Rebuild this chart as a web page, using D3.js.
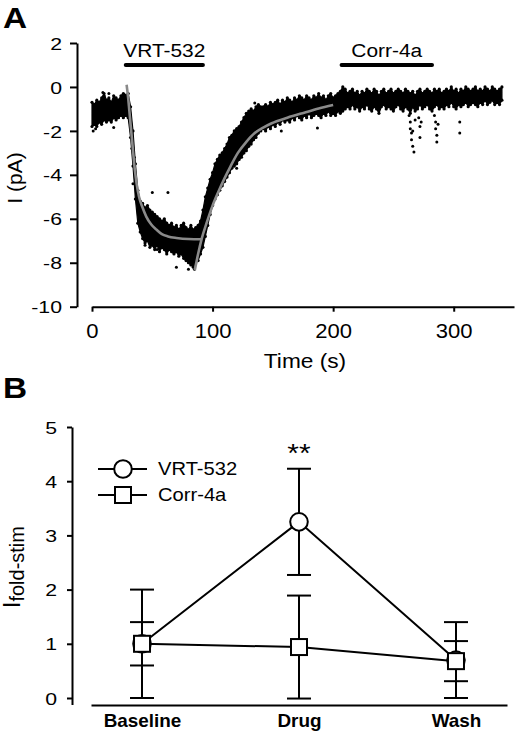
<!DOCTYPE html>
<html><head><meta charset="utf-8">
<script src="https://cdn.jsdelivr.net/npm/d3@7"></script>
<style>
body{margin:0;background:#fff}
svg{display:block}
text{font-family:"Liberation Sans",Arial,Helvetica,sans-serif;fill:#000}
</style>
</head><body>
<svg id="chart" width="516" height="733"></svg>
<script>
// ---------------- Panel A data ----------------
const traceStep = 2; // seconds between trace bins, first bin at t = 0
const traceHi = [
 -0.7,-0.8,-0.6,-0.7,-0.5,-0.3,-0.6,-0.5,-0.7,-0.4,-0.5,-0.6,-0.4,-0.3,-0.4,-0.3,
 -0.9,-2.0,-3.5,-4.7,-5.2,-5.3,-5.5,-5.4,-5.6,-5.7,-5.8,-5.9,-6.0,-6.1,-6.0,-6.2,-6.3,-6.2,-6.4,-6.3,-6.5,-6.3,-6.2,-6.4,-6.5,-6.3,-6.5,-6.4,-6.3,-6.1,
 -5.6,-5.0,-4.6,-4.2,-3.9,-3.5,-3.3,-3.1,-3.0,-2.8,-2.6,-2.3,-2.2,-2.0,-1.9,-1.8,-1.6,-1.4,-1.2,-1.1,-1.0,-1.1,-0.9,-0.8,-0.9,
 -0.9,-0.8,-0.9,-0.7,-0.8,-0.7,-0.6,-0.8,-0.6,-0.7,-0.5,-0.6,-0.7,-0.5,-0.6,-0.4,-0.5,-0.6,-0.4,-0.5,-0.6,-0.4,-0.5,-0.3,-0.5,-0.4,-0.6,-0.4,-0.3,-0.5,-0.4,-0.3,-0.2,
 0.0,-0.1,-0.3,-0.2,-0.1,-0.3,-0.2,-0.4,-0.2,-0.3,
 -0.1,-0.2,-0.3,-0.1,-0.2,-0.4,-0.2,-0.1,-0.3,-0.2,
 -0.1,-0.3,-0.2,-0.1,-0.2,-0.3,-0.1,-0.2,-0.3,-0.2,
 -0.4,-0.2,-0.1,-0.3,-0.2,-0.1,-0.2,-0.3,-0.1,-0.2,
 -0.1,-0.3,-0.2,-0.1,-0.2,0.0,-0.2,-0.1,-0.3,-0.1,
 -0.2,0.0,-0.1,-0.2,-0.1,0.0,-0.2,-0.1,-0.2,0.0,
 -0.1,-0.2,0.0,-0.1,-0.2,-0.1,0.0
];
const traceLo = [
 -1.8,-1.7,-1.8,-1.6,-1.7,-1.5,-1.6,-1.5,-1.6,-1.4,-1.5,-1.4,-1.3,-1.4,-1.3,-1.4,
 -2.3,-3.6,-5.1,-6.2,-6.6,-6.9,-7.1,-7.0,-7.3,-7.2,-7.4,-7.2,-7.5,-7.3,-7.4,-7.6,-7.4,-7.5,-7.6,-7.5,-7.7,-7.6,-7.8,-7.9,-8.0,-8.1,-8.2,-8.0,-7.9,-7.6,
 -7.3,-6.8,-6.3,-5.8,-5.4,-5.1,-4.9,-4.7,-4.5,-4.3,-4.1,-3.9,-3.7,-3.6,-3.5,-3.3,-3.2,-3.0,-2.9,-2.7,-2.6,-2.4,-2.3,-2.1,-2.0,
 -1.9,-2.0,-1.8,-1.9,-1.7,-1.8,-1.6,-1.7,-1.5,-1.6,-1.5,-1.6,-1.4,-1.5,-1.3,-1.4,-1.5,-1.3,-1.4,-1.2,-1.4,-1.3,-1.2,-1.3,-1.4,-1.2,-1.3,-1.1,-1.3,-1.2,-1.3,-1.1,-1.2,
 -1.1,-1.0,-0.9,-1.0,-0.8,-1.0,-0.9,-1.1,-0.9,-1.0,
 -0.8,-1.0,-1.1,-0.9,-1.0,-1.2,-0.9,-0.8,-1.0,-0.9,
 -1.0,-1.1,-0.9,-0.8,-1.0,-1.1,-0.9,-1.0,-1.2,-0.9,
 -1.1,-1.0,-0.8,-1.0,-0.9,-0.8,-1.0,-1.1,-0.9,-0.8,
 -1.0,-0.9,-1.0,-0.8,-0.9,-0.7,-0.9,-1.0,-0.8,-0.9,
 -0.8,-0.7,-0.9,-0.8,-0.7,-0.8,-0.9,-0.7,-0.8,-0.6,
 -0.8,-0.7,-0.6,-0.8,-0.7,-0.8,-0.6
];
// isolated points [time s, current pA]
const traceDots = [
 [1,-2.0],[3,-1.9],[9,-0.25],[10,-0.4],[14,-0.3],[18,-1.85],[27,-0.35],
 [33,-2.8],[34,-4.4],[35,-3.2],[38,-4.9],[44,-7.2],[50,-4.8],[54,-7.4],[63,-4.8],[70,-8.2],[85,-8.3],[80,-8.3],
 [103,-3.55],[120,-3.7],[135,-0.73],[157,-2.0],[187,-1.87],
 [263,-1.3],[264,-1.6],[264,-1.9],[265,-2.1],[265,-2.4],[266,-2.0],[266,-2.7],[267,-2.96],[268,-1.5],
 [271,-1.4],[272,-1.8],[272,-2.3],[273,-1.6],
 [284,-1.3],[285,-1.6],[285,-1.9],[286,-2.2],[286,-2.5],[287,-1.7],
 [305,-1.6],[305,-2.1]
];
// fitted curves [time s, current pA]
const fitOnset = [[28.7,0.1],[30,-0.5],[31,-1.1],[32,-1.7],[33,-2.3],[34,-2.9],[35.6,-3.8],[37,-4.4],[39,-5.0],[42,-5.5],[45,-5.9],[49,-6.25],[53.6,-6.5],[58,-6.7],[63,-6.8],[70,-6.87],[80,-6.92],[91,-6.93]];
const fitWash = [[85.3,-8.33],[88,-7.6],[91,-6.9],[95,-6.2],[100,-5.4],[105,-4.75],[110,-4.15],[115,-3.6],[121,-3.0],[128,-2.5],[135,-2.1],[142,-1.85],[149,-1.65],[162,-1.4],[176,-1.17],[188,-0.98],[200,-0.82]];
const drugNames = ["VRT-532","Corr-4a"];
const drugStart = [28, 207];
const drugEnd = [92, 282];
const drugBarLevel = 1.0;
const timeTicks = [0,100,200,300];
const currentTicks = [2,0,-2,-4,-6,-8,-10];

// ---------------- Panel B data ----------------
const conditions = ["Baseline","Drug","Wash"];
const seriesNames = ["VRT-532","Corr-4a"];
const vrtMean = [1.0, 3.25, 0.70];
const vrtSD   = [1.0, 0.98, 0.70];
const corrMean = [1.0, 0.94, 0.68];
const corrSD   = [0.40, 0.95, 0.37];
const foldTicks = [0,1,2,3,4,5];

// ---------------- drawing ----------------
const svg = d3.select("#chart");
const FONT = '"Liberation Sans",Arial,Helvetica,sans-serif';

function stretch(sel, k){
  sel.each(function(){
    const t = d3.select(this);
    const x = +(t.attr("x")||0);
    t.attr("x", x/k).attr("transform", `scale(${k},1)`);
  });
}
function label(g, x, y, txt, size, k, opts={}){
  return g.append("text").attr("x", x/k).attr("y", y)
    .attr("transform", `scale(${k},1)`)
    .attr("font-size", size).attr("text-anchor", opts.anchor||"start")
    .attr("font-weight", opts.weight||"normal").text(txt);
}

// ===== Panel A =====
const A = svg.append("g");
const xA = d3.scaleLinear().domain([0,350]).range([92,514]);
const yA = d3.scaleLinear().domain([-10,2]).range([306.7,43]);

const yAxisA = A.append("g").attr("transform","translate(77,0)")
  .call(d3.axisLeft(yA).tickValues(currentTicks).tickSize(7).tickSizeOuter(0).tickPadding(8).tickFormat(d3.format("d")));
const xAxisA = A.append("g").attr("transform",`translate(0,${yA(-10)})`)
  .call(d3.axisBottom(xA).tickValues(timeTicks).tickSize(5).tickSizeOuter(0));
[yAxisA, xAxisA].forEach(g=>{
  g.selectAll("path,line").attr("stroke","#000").attr("stroke-width",2);
  g.selectAll("text").attr("font-family",FONT).attr("fill","#000");
});
yAxisA.selectAll("text").attr("font-size",17).attr("dy","0.36em").text(d=>d<0?"-"+Math.abs(d):d);
stretch(yAxisA.selectAll("text"), 1.25);
xAxisA.selectAll("text").attr("font-size",21).attr("y",31).attr("dy",0);
stretch(xAxisA.selectAll("text"), 1.05);

// trace: dense band + edge points
const traceBins = traceHi.map((h,i)=>({t:i*traceStep, hi:h, lo:traceLo[i]}));
A.append("path").datum(traceBins)
  .attr("d", d3.area().x(d=>xA(d.t)).y0(d=>yA(d.lo)).y1(d=>yA(d.hi)))
  .attr("fill","#000").attr("stroke","#000").attr("stroke-width",1.2).attr("stroke-linejoin","round");
const edgePts = traceBins.flatMap(d=>[[d.t,d.hi],[d.t,d.lo]]);
A.append("g").selectAll("circle").data(edgePts).join("circle")
  .attr("cx",d=>xA(d[0])).attr("cy",d=>yA(d[1])).attr("r",1.6).attr("fill","#000");
A.append("g").selectAll("circle").data(traceDots).join("circle")
  .attr("cx",d=>xA(d[0])).attr("cy",d=>yA(d[1])).attr("r",1.5).attr("fill","#000");

// fits
const fitLine = d3.line().x(d=>xA(d[0])).y(d=>yA(d[1])).curve(d3.curveMonotoneX);
[fitOnset, fitWash].forEach(f=>{
  A.append("path").attr("d",fitLine(f)).attr("fill","none")
   .attr("stroke","#8a8a8a").attr("stroke-width",2.6);
});

// drug application bars
drugNames.forEach((n,i)=>{
  A.append("line").attr("x1",xA(drugStart[i])).attr("x2",xA(drugEnd[i]))
   .attr("y1",yA(drugBarLevel)).attr("y2",yA(drugBarLevel))
   .attr("stroke","#000").attr("stroke-width",4).attr("stroke-linecap","round");
  label(A, (xA(drugStart[i])+xA(drugEnd[i]))/2, yA(drugBarLevel)-8, n, 19, 1.1, {anchor:"middle"});
});

// axis titles
label(A, 305, 368, "Time (s)", 21, 1.08, {anchor:"middle"});
A.append("text").attr("transform","translate(22,178) rotate(-90)")
  .attr("text-anchor","middle").attr("font-size",21).text("I (pA)");
label(A, 3, 28, "A", 29, 1.15, {weight:"bold"});

// ===== Panel B =====
const B = svg.append("g");
const xB = d3.scalePoint().domain(conditions).range([91,507]).padding(0.325);
const yB = d3.scaleLinear().domain([-0.12,5]).range([704.5,427]);

const yAxisB = B.append("g").attr("transform","translate(72,0)")
  .call(d3.axisLeft(yB).tickValues(foldTicks).tickSize(5).tickSizeOuter(0).tickPadding(10).tickFormat(d3.format("d")));
const xAxisB = B.append("g").attr("transform","translate(0,705)")
  .call(d3.axisBottom(xB).tickSize(0).tickSizeOuter(0));
[yAxisB, xAxisB].forEach(g=>{
  g.selectAll("path,line").attr("stroke","#000").attr("stroke-width",2);
  g.selectAll("text").attr("font-family",FONT).attr("fill","#000");
});
yAxisB.selectAll("text").attr("font-size",17).attr("dy","0.36em");
stretch(yAxisB.selectAll("text"), 1.25);
xAxisB.selectAll("text").attr("font-size",18).attr("font-weight","bold").attr("y",22).attr("dy",0);
stretch(xAxisB.selectAll("text"), 1.05);

const vrtPts = conditions.map((c,i)=>({x:xB(c), m:vrtMean[i], s:vrtSD[i]}));
const corrPts = conditions.map((c,i)=>({x:xB(c), m:corrMean[i], s:corrSD[i]}));
const seriesLine = d3.line().x(d=>d.x).y(d=>yB(d.m));
[vrtPts, corrPts].forEach(p=>{
  B.append("path").attr("d",seriesLine(p)).attr("fill","none").attr("stroke","#000").attr("stroke-width",2);
});
// error bars
const capW = 12;
[vrtPts, corrPts].forEach(p=>{
  const g = B.append("g").attr("stroke","#000").attr("stroke-width",2);
  p.forEach(d=>{
    g.append("line").attr("x1",d.x).attr("x2",d.x).attr("y1",yB(d.m+d.s)).attr("y2",yB(d.m-d.s));
    g.append("line").attr("x1",d.x-capW).attr("x2",d.x+capW).attr("y1",yB(d.m+d.s)).attr("y2",yB(d.m+d.s));
    g.append("line").attr("x1",d.x-capW).attr("x2",d.x+capW).attr("y1",yB(d.m-d.s)).attr("y2",yB(d.m-d.s));
  });
});
// markers
B.append("g").selectAll("circle").data(vrtPts).join("circle")
  .attr("cx",d=>d.x).attr("cy",d=>yB(d.m)).attr("r",8.8)
  .attr("fill","#fff").attr("stroke","#000").attr("stroke-width",2);
B.append("g").selectAll("rect").data(corrPts).join("rect")
  .attr("x",d=>d.x-8).attr("y",d=>yB(d.m)-8).attr("width",16).attr("height",16)
  .attr("fill","#fff").attr("stroke","#000").attr("stroke-width",2);

// significance
label(B, xB("Drug"), 462, "**", 26, 1.15, {anchor:"middle"});

// legend
const lg = B.append("g");
seriesNames.forEach((n,i)=>{
  const y = 469 + i*26;
  lg.append("line").attr("x1",98).attr("x2",147).attr("y1",y).attr("y2",y).attr("stroke","#000").attr("stroke-width",2);
  if(i===0){
    lg.append("circle").attr("cx",123).attr("cy",y).attr("r",8.8).attr("fill","#fff").attr("stroke","#000").attr("stroke-width",2);
  } else {
    lg.append("rect").attr("x",115).attr("y",y-8).attr("width",16).attr("height",16).attr("fill","#fff").attr("stroke","#000").attr("stroke-width",2);
  }
  label(lg, 158, y+6.5, n, 18, 1.12);
});

// y title
const yt = B.append("text").attr("transform","translate(20,608) rotate(-90)").attr("text-anchor","start");
yt.append("tspan").attr("font-size",23).text("I");
yt.append("tspan").attr("font-size",20).attr("dy",4).text("fold-stim");
label(B, 3, 398, "B", 29, 1.15, {weight:"bold"});
</script>
</body></html>
